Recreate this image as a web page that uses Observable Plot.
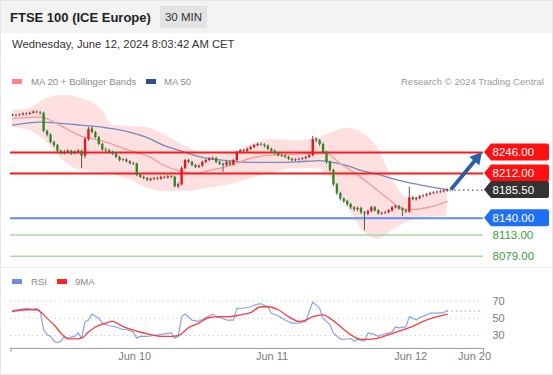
<!DOCTYPE html>
<html><head><meta charset="utf-8">
<script src="https://cdn.jsdelivr.net/npm/d3@7"></script>
<script src="https://cdn.jsdelivr.net/npm/@observablehq/plot@0.6"></script>
<style>
html,body{margin:0;padding:0;background:#fff}
#root{position:relative;width:553px;height:375px;overflow:hidden;font-family:"Liberation Sans",Arial,sans-serif;background:#fff}
.abs{position:absolute;white-space:nowrap}
.sw{position:absolute;width:10px;height:5px}
.lg{position:absolute;font-size:9.6px;color:#8a8a8a;white-space:nowrap}
</style></head><body><div id="root">
<div class="abs" style="left:0;top:0;width:553px;height:33px;background:#f3f3f3"></div>
<div class="abs" style="left:10px;top:10px;font-size:13px;font-weight:bold;color:#222">FTSE 100 (ICE Europe)</div>
<div class="abs" style="left:160px;top:6px;width:47px;height:22px;line-height:22px;background:#e3e3e3;text-align:center;font-size:11.5px;color:#333">30 MIN</div>
<div class="abs" style="left:12px;top:38px;font-size:11.3px;color:#333">Wednesday, June 12, 2024 8:03:42 AM CET</div>
<div class="sw" style="left:12px;top:79px;background:#ff8585"></div>
<div class="lg" style="left:31px;top:76px">MA 20 + Bollinger Bands</div>
<div class="sw" style="left:146px;top:79px;background:#2b528f"></div>
<div class="lg" style="left:164px;top:76px">MA 50</div>
<div class="lg" style="right:9px;top:76px;color:#9a9a9a">Research © 2024 Trading Central</div>
<div id="main" class="abs" style="left:0;top:90px"></div>
<div class="abs" style="left:0;top:267px;width:553px;height:1px;background:#eeeeee"></div>
<div class="sw" style="left:12px;top:279px;background:#6a8ee8"></div>
<div class="lg" style="left:31px;top:276px">RSI</div>
<div class="sw" style="left:57px;top:279px;background:#ff2222"></div>
<div class="lg" style="left:75px;top:276px">9MA</div>
<div id="rsi" class="abs" style="left:0;top:290px"></div>
<div class="abs" style="left:0;top:0;width:551px;height:373px;border:1px solid #e6e6e6;pointer-events:none"></div>
</div>
<script>
// ---- data ----
const open = [8305,8306,8305,8306,8308,8307,8309,8311,8310,8309,
8280,8274,8262,8257,8248,8244,8246,8248,8244,8246,
8248,8240,8267,8284,8278,8270,8259,8250,8249,8246,
8243,8238,8233,8234,8231,8228,8227,8209,8206,8204,
8201,8203,8204,8203,8206,8205,8207,8206,8191,8194,
8220,8233,8230,8225,8222,8224,8230,8233,8235,8236,
8230,8227,8225,8230,8226,8233,8246,8249,8248,8251,
8254,8257,8259,8258,8256,8251,8248,8244,8241,8240,
8238,8235,8233,8234,8235,8236,8238,8241,8267,8265,
8259,8246,8230,8217,8194,8180,8171,8167,8162,8157,
8154,8156,8149,8147,8151,8157,8152,8147,8148,8149,
8152,8157,8159,8155,8152,8150,8173,8170,8172,8175,
8176,8178,8180,8181,8182,8183,8184];
const close = [8306,8305,8306,8308,8307,8309,8311,8310,8309,8280,
8274,8262,8257,8248,8244,8246,8248,8244,8246,8248,
8240,8267,8283,8278,8270,8259,8250,8249,8246,8243,
8238,8233,8234,8231,8228,8227,8209,8206,8204,8201,
8203,8204,8203,8206,8205,8207,8206,8191,8194,8220,
8233,8230,8225,8222,8224,8230,8233,8235,8236,8230,
8227,8225,8230,8226,8233,8246,8249,8248,8251,8254,
8257,8259,8258,8256,8251,8248,8244,8241,8240,8238,
8235,8233,8234,8235,8236,8238,8241,8267,8265,8259,
8246,8230,8217,8194,8180,8171,8167,8162,8157,8154,
8156,8149,8147,8151,8157,8152,8147,8148,8149,8152,
8157,8159,8155,8152,8150,8173,8170,8172,8175,8176,
8178,8180,8181,8182,8183,8184,8185.5];
const high = [8308,8307,8308,8310,8310,8311,8313,8313,8312,8311,
8282,8276,8264,8259,8250,8249,8251,8250,8249,8251,
8250,8270,8286,8287,8280,8272,8261,8253,8251,8248,
8245,8240,8236,8236,8233,8230,8229,8211,8208,8206,
8205,8206,8206,8208,8208,8209,8209,8208,8197,8223,
8235,8235,8232,8227,8226,8232,8235,8238,8239,8238,
8232,8229,8232,8232,8235,8248,8251,8251,8253,8256,
8259,8261,8261,8260,8258,8253,8250,8246,8243,8242,
8240,8237,8236,8237,8238,8240,8243,8272,8270,8267,
8261,8248,8232,8219,8196,8182,8173,8169,8164,8159,
8158,8158,8151,8153,8159,8159,8154,8150,8151,8154,
8159,8161,8161,8157,8154,8190,8175,8174,8177,8178,
8180,8182,8183,8184,8185,8186,8187];
const low = [8304,8303,8304,8305,8305,8306,8308,8308,8306,8278,
8271,8260,8254,8245,8242,8242,8244,8241,8242,8244,
8220,8236,8264,8276,8268,8257,8248,8246,8244,8241,
8236,8231,8231,8229,8226,8225,8207,8204,8202,8199,
8199,8201,8201,8201,8203,8203,8204,8189,8188,8192,
8218,8228,8223,8220,8220,8222,8228,8231,8233,8228,
8225,8214,8223,8224,8224,8231,8244,8246,8246,8249,
8252,8255,8256,8253,8249,8246,8242,8239,8238,8236,
8233,8231,8231,8232,8233,8234,8236,8239,8262,8256,
8243,8227,8214,8191,8177,8168,8164,8159,8154,8151,
8151,8146,8120,8144,8149,8150,8145,8145,8146,8147,
8150,8155,8153,8143,8148,8148,8168,8168,8170,8173,
8174,8176,8178,8179,8180,8181,8182];

const ma20Idx = [0,8,12,17,20,24,28,34,40,44,48,53,57,63,68,73,81,86,91,95,99,104,109,112,115,120,126];
const ma20Val = [8301,8303,8295,8280,8272,8267,8261,8249,8238,8225,8217,8212,8217,8225,8235,8241,8243,8244,8244,8228,8214,8193,8171,8158,8154,8157,8167];
const ma50Idx = [0,8,14,20,24,28,33,39,44,49,53,57,62,66,72,78,83,89,92,97,101,107,112,118,124,126];
const ma50Val = [8290,8295,8293,8290,8288,8285,8280,8270,8257,8248,8241,8236,8233,8231,8230,8230,8231,8233,8231,8225,8217,8209,8201,8194,8188,8186];
const bbIdx = [0,5,10,14,20,26,29,34,39,44,50,57,63,70,76,82,88,92,97,102,106,110,115,121,126];
const bbUpper = [8314,8317,8333,8338,8333,8314,8290,8288,8286,8275,8256,8244,8244,8261,8267,8265,8269,8277,8285,8275,8252,8204,8171,8176,8188];
const bbLower = [8286,8281,8262,8236,8217,8214,8210,8202,8188,8183,8183,8189,8194,8205,8214,8220,8220,8207,8160,8117,8106,8120,8135,8141,8143];

const resistance = [8246, 8212];
const pivot = [8140];
const support = [8113, 8079];
const lastPrice = 8185.5;
const target = 8246;

const rsiIdx = [0,4,6,7,8,9,10,11,12,13,14,15,16,18,19,20,21,22,23,25,26,28,30,32,33,35,36,37,39,41,44,46,47,48,49,50,52,54,56,58,59,61,62,64,65,67,69,71,72,74,75,77,79,81,83,85,87,88,89,90,92,93,95,96,98,99,100,102,103,105,106,108,110,111,112,114,115,117,118,120,121,123,125,126];
const rsiVal = [59,61.6,60.5,61.6,58,37,31,29,23.5,21.6,23.5,29,27,29,33,27,46,48,55,50,44.5,41.4,40,37,37,34,27,29,29,30,32,33,27,29,52,55,48,46.5,51,55,52,50,48,48,61.6,62,63.5,66.6,67,63.5,56,53,48,44.5,44.5,46.5,69,65.4,61.6,50,42.6,33,26,25.4,26.5,23.5,25.4,23.5,33,31,29,32,34,40,39,40,52,48,51,54,56,56,56.7,59];
const rsi9Idx = [0,4,7,8,10,12,14,16,18,20,22,24,27,29,31,33,36,40,43,45,48,51,54,57,60,63,66,69,72,74,77,80,83,85,87,90,92,95,98,101,103,106,109,112,116,119,123,126];
const rsi9Val = [58,60,60,58,50,42.6,33,26,26,27,34,40,44.5,46.5,42.6,39,35,31,29,29,30,39,44.5,51,52,52,54,56.7,63.5,63.5,60,52,46.5,48,52,54,50,40.6,31,25.4,25.4,27,31,35,40.6,46.5,52,55];
const rsiLevels = [70, 50, 30];
const rsiLast = 58.5;

const dayTicks = [35.4, 75.2, 115.4, 133.9];
const dayLabels = ["Jun 10", "Jun 11", "Jun 12", "Jun 20"];

// ---- tables ----
const bars = close.map((c, i) => ({i, o: open[i], h: high[i], l: low[i], c}));
const ma20 = ma20Idx.map((i, k) => ({i, v: ma20Val[k]}));
const ma50 = ma50Idx.map((i, k) => ({i, v: ma50Val[k]}));
const bb = bbIdx.map((i, k) => ({i, up: bbUpper[k], lo: bbLower[k]}));
const rsi = rsiIdx.map((i, k) => ({i, v: rsiVal[k]}));
const rsi9 = rsi9Idx.map((i, k) => ({i, v: rsi9Val[k]}));
const lastIdx = bars.length - 1;

const XD = [-0.6, 136.5];
const FONT = "Liberation Sans, Arial, sans-serif";

const main = Plot.plot({
  width: 553, height: 180,
  marginLeft: 10, marginRight: 70, marginTop: 3.6, marginBottom: 2.5,
  x: {domain: XD, axis: null},
  y: {domain: [8060, 8340], axis: null},
  style: {background: "transparent", fontFamily: FONT, overflow: "visible"},
  marks: [
    Plot.areaY(bb, {x: "i", y1: "lo", y2: "up", fill: "#ffd3d3", fillOpacity: 0.7, curve: "monotone-x"}),
    Plot.lineY(ma50, {x: "i", y: "v", stroke: "#6b8cc4", strokeWidth: 1.3, curve: "monotone-x"}),
    Plot.lineY(ma20, {x: "i", y: "v", stroke: "#f59a9a", strokeWidth: 1.3, curve: "monotone-x"}),
    Plot.ruleY(support, {stroke: "#a9d9a2", strokeWidth: 1.5}),
    Plot.ruleY(pivot, {stroke: "#5b8ff0", strokeWidth: 2}),
    Plot.ruleY(resistance, {stroke: "#ff1a1a", strokeWidth: 2}),
    Plot.ruleY([lastPrice], {x1: lastIdx + 0.8, x2: XD[1], stroke: "#555", strokeWidth: 1.3, strokeDasharray: "1.5,3"}),
    Plot.ruleX(bars, {x: "i", y1: "l", y2: "h", stroke: "#555", strokeWidth: 1}),
    Plot.ruleX(bars, {x: "i", y1: "o", y2: "c", stroke: d => d.c >= d.o ? "#e8161c" : "#2e8a24", strokeWidth: 2.4}),
    Plot.text(support, {x: XD[1], y: d => d, text: d => d.toFixed(2), dx: 9, textAnchor: "start", fill: "#3b9c3b", fontSize: 11.5})
  ]
});
document.getElementById("main").appendChild(main);

// tags and target arrow drawn with the plot's own scales
{
  const xs = main.scale("x"), ys = main.scale("y");
  const g = d3.select(main).append("g").attr("font-family", FONT).attr("text-anchor", "start");
  const tags = [
    {v: resistance[0], fill: "#ff1010"},
    {v: resistance[1], fill: "#ff1010"},
    {v: lastPrice, fill: "#333333"},
    {v: pivot[0], fill: "#1f6ff2"}
  ];
  const x0 = xs.apply(XD[1]);
  for (const t of tags) {
    const y = ys.apply(t.v);
    g.append("path")
      .attr("d", `M${x0 + 1},${y} L${x0 + 8},${y - 8.5} H${x0 + 64} Q${x0 + 66},${y - 8.5} ${x0 + 66},${y - 6.5} V${y + 6.5} Q${x0 + 66},${y + 8.5} ${x0 + 64},${y + 8.5} H${x0 + 8} Z`)
      .attr("fill", t.fill);
    g.append("text").attr("x", x0 + 9.5).attr("y", y + 4).attr("fill", "#fff")
      .attr("text-anchor", "start").attr("font-size", 11.5).text(t.v.toFixed(2));
  }
  // arrow from last close to target
  const p1 = [xs.apply(lastIdx + 1.2), ys.apply(lastPrice)];
  const p2 = [xs.apply(136.2), ys.apply(target)];
  const dx = p2[0] - p1[0], dy = p2[1] - p1[1], len = Math.hypot(dx, dy);
  const ux = dx / len, uy = dy / len, hl = 12, hw = 6.5;
  const b = [p2[0] - ux * hl, p2[1] - uy * hl];
  g.append("line").attr("x1", p1[0]).attr("y1", p1[1]).attr("x2", b[0] + ux * 1).attr("y2", b[1] + uy * 1)
    .attr("stroke", "#2a5ea8").attr("stroke-width", 3.8);
  g.append("path")
    .attr("d", `M${p2[0]},${p2[1]} L${b[0] - uy * hw},${b[1] + ux * hw} L${b[0] + uy * hw},${b[1] - ux * hw} Z`)
    .attr("fill", "#2a5ea8");
}

const rsiChart = Plot.plot({
  width: 553, height: 80,
  marginLeft: 10, marginRight: 70, marginTop: 2.1, marginBottom: 22.1,
  x: {domain: XD, axis: null},
  y: {domain: [15, 80], axis: null},
  style: {background: "transparent", fontFamily: FONT, overflow: "visible"},
  marks: [
    Plot.ruleY(rsiLevels, {stroke: "#c4c4c4", strokeWidth: 1, strokeDasharray: "1,3.5"}),
    Plot.ruleY([rsiLast], {x1: lastIdx, x2: XD[1], stroke: "#9db3f0", strokeWidth: 1.2, strokeDasharray: "1.5,3"}),
    Plot.lineY(rsi, {x: "i", y: "v", stroke: "#87a3ec", strokeWidth: 1.2}),
    Plot.lineY(rsi9, {x: "i", y: "v", stroke: "#ff3a3a", strokeWidth: 1.3, curve: "monotone-x"}),
    Plot.ruleY([15], {stroke: "#9a9a9a", strokeWidth: 1}),
    Plot.ruleX([XD[0] + 0.15, XD[1]], {y1: 15, y2: 10.5, stroke: "#9a9a9a", strokeWidth: 1}),
    Plot.text(rsiLevels, {x: XD[1], y: d => d, text: d => String(d), dx: 9, textAnchor: "start", fill: "#7a7a7a", fontSize: 11}),
    Plot.text(dayTicks, {x: d => d, text: (d, k) => dayLabels[k], frameAnchor: "bottom", dy: 11.5, fill: "#7a7a7a", fontSize: 11})
  ]
});
document.getElementById("rsi").appendChild(rsiChart);
</script>
</body></html>
